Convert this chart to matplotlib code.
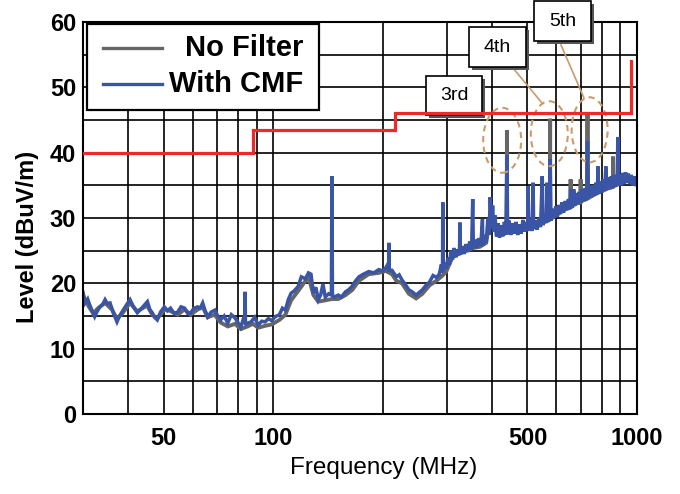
import matplotlib
matplotlib.use("Agg")
import matplotlib.pyplot as plt
import matplotlib.transforms as mtransforms
from matplotlib.patches import Rectangle, Ellipse
from matplotlib.lines import Line2D
from matplotlib.ticker import FixedLocator, FixedFormatter, NullFormatter

plt.rcParams['font.family'] = ['Liberation Sans', 'DejaVu Sans']

# ---------------- data ----------------
series_names = ["No Filter", "With CMF"]

# (frequency MHz, level dBuV/m)
with_cmf = [
    (30, 18.6), (30.4, 17.0), (30.9, 17.6), (31.3, 16.7), (31.8, 15.8), (32.3, 14.9), (32.8, 15.7),
    (33.4, 16.4), (34.0, 16.8), (34.5, 17.5), (35.0, 16.9), (35.6, 17.0), (36.4, 15.4), (37.2, 14.1),
    (37.8, 15.0), (38.4, 15.6), (39.4, 16.6), (40.4, 17.5), (41.3, 16.4), (42.3, 15.5), (43.5, 16.2),
    (45.1, 17.2), (45.8, 16.0), (46.5, 15.5), (47.2, 14.8), (48.0, 14.4), (49.0, 15.6), (50.2, 16.4),
    (51.2, 15.8), (52.2, 16.2), (53.4, 15.4), (54.6, 15.6), (55.8, 16.4), (57.1, 16.2), (58.2, 15.4),
    (59.3, 15.5), (60.6, 16.2), (62.0, 16.4), (63.0, 16.2), (64.0, 17.0), (65.0, 15.8), (66.1, 14.9),
    (67.5, 15.6), (69.1, 15.9), (70.4, 15.0), (71.7, 14.4), (73.3, 15.0), (75.0, 13.9), (76.7, 15.2),
    (78.5, 14.7), (80.0, 14.0), (81.5, 13.3), (82.6, 14.4), (83.5, 14.0), (83.7, 18.7), (83.9, 14.0),
    (85.0, 13.9), (86.9, 14.1), (88.9, 14.8), (90.9, 13.6), (93.0, 14.2), (95.0, 14.1), (97.0, 14.6),
    (99.0, 14.3), (101.3, 14.9), (104, 15.2), (106, 16.2), (108, 15.9), (110, 17.5), (112, 18.5),
    (114, 18.8), (117, 19.5), (119.5, 21.0), (122.6, 20.7), (125, 21.6), (127, 21.4), (128, 19.9),
    (129, 18.5), (131, 19.4), (133, 17.5), (135, 18.2), (137, 19.9), (139, 17.9), (142, 18.4),
    (144.5, 18.2), (145, 36.4), (145.5, 18.2), (147, 17.9), (151, 18.2), (154, 17.9), (158, 18.7),
    (161, 19.0), (164.5, 19.5), (168, 20.3), (172, 21.0), (177, 21.4), (183, 21.8), (189, 21.6),
    (195, 22.1), (200, 21.9), (204, 22.4), (206, 22.8), (207.5, 22.0), (208, 26.2), (208.5, 22.0),
    (212, 22.0), (218, 21.0), (222, 21.3), (226, 20.5), (231, 19.8), (236, 19.0), (241, 18.7),
    (247, 18.2), (252, 18.6), (257, 19.0), (263, 19.7), (269, 20.2), (275, 21.2), (281, 20.9),
    (286, 21.4), (290, 22.9), (292, 21.6), (292.5, 32.4), (293, 21.9), (296, 23.2), (299, 22.2),
    (302, 23.9), (305, 22.8), (308, 25.0), (311, 23.6), (314, 25.4), (318, 24.0), (322, 25.2),
    (325, 24.3), (326, 29.3), (327, 24.4), (331, 25.7), (335, 24.5), (339, 26.0), (343, 24.8),
    (347, 26.4), (351, 25.1), (353.5, 32.9), (355, 25.4), (359, 26.7), (363, 25.4), (367, 26.9),
    (372, 25.7), (376, 29.8), (377, 25.8), (381, 27.4), (385, 26.2), (389, 29.9), (392, 27.4),
    (395, 33.2), (398, 28.4), (401, 31.9), (404, 27.9), (407, 30.4), (411, 27.2), (415, 29.2),
    (419, 27.0), (424, 28.9), (428, 27.2), (432, 29.4), (436, 27.4), (439, 39.6), (441, 27.6),
    (445, 29.6), (450, 27.4), (455, 29.2), (460, 27.6), (465, 29.4), (470, 27.4), (475, 29.0),
    (480, 27.6), (486, 29.7), (491, 27.9), (496, 29.4), (501, 28.0), (502, 34.9), (504, 28.2),
    (510, 29.8), (515, 28.0), (518, 35.4), (520, 28.4), (526, 29.6), (531, 28.2), (537, 30.0),
    (543, 28.6), (549, 36.4), (552, 28.9), (558, 30.6), (563, 29.2), (566, 35.4), (569, 29.4),
    (574, 30.9), (577, 39.0), (580, 29.6), (586, 31.4), (592, 30.0), (598, 31.8), (604, 30.2),
    (610, 32.0), (616, 30.6), (622, 32.4), (628, 30.8), (635, 32.6), (641, 31.2), (648, 32.9),
    (654, 31.4), (657, 34.4), (660, 33.4), (664, 31.6), (670, 34.4), (675, 31.9), (681, 33.8),
    (688, 32.2), (694, 34.0), (700, 32.4), (707, 34.4), (714, 32.6), (721, 34.6), (728, 32.8),
    (731, 41.8), (735, 33.0), (742, 34.9), (749, 33.2), (756, 35.0), (763, 33.4), (770, 35.4),
    (778, 33.6), (781, 37.9), (785, 33.7), (793, 35.6), (801, 33.9), (809, 35.9), (815, 34.1),
    (821, 37.9), (826, 34.3), (834, 36.2), (842, 34.4), (850, 36.4), (858, 34.6), (866, 36.6),
    (874, 34.8), (882, 36.4), (886, 42.4), (890, 35.0), (898, 36.7), (906, 35.0), (914, 36.9),
    (922, 35.2), (930, 37.0), (938, 35.4), (946, 36.8), (955, 35.2), (964, 36.6), (973, 35.0),
    (982, 36.4), (991, 34.9), (1000, 35.6),
]

no_filter = [
    (30, 18.2), (31, 16.6), (32, 15.4), (33, 16.2), (34.5, 17.0), (36, 16.0), (37.2, 14.6),
    (38.5, 15.4), (40.4, 17.0), (42.3, 15.7), (45, 16.6), (46.5, 15.2), (48, 14.6), (50.2, 16.0),
    (52, 15.8), (54.6, 15.2), (57, 16.0), (59.3, 15.2), (62, 16.0), (64, 16.4), (66, 14.8),
    (69, 15.2), (71.7, 14.0), (75, 13.4), (78.5, 13.8), (81.5, 13.0), (85, 13.4), (88, 13.8),
    (90.9, 13.2), (95, 13.5), (99, 13.7), (104, 14.4), (108, 15.2), (112, 17.4), (117, 18.8),
    (122, 20.2), (125, 21.0), (129, 18.2), (133, 17.2), (139, 17.4), (145, 17.6), (151, 17.6),
    (158, 18.2), (165, 19.0), (172, 20.4), (183, 21.4), (195, 21.6), (204, 21.9), (212, 21.4),
    (218, 20.4), (226, 20.0), (236, 18.4), (247, 17.7), (257, 18.4), (269, 19.7), (281, 20.4),
    (292, 21.2), (299, 21.8), (311, 24.0), (326, 24.6), (340, 25.0), (354, 25.4), (370, 25.6),
    (385, 26.2), (394, 29.8), (398, 28.5), (405, 30.2), (412, 27.4), (425, 27.4), (436, 27.7),
    (438.5, 27.7), (439, 43.4), (439.5, 27.8), (456, 28.0), (477, 28.0), (499, 28.4), (518, 28.5),
    (540, 29.0), (560, 29.5), (576.5, 29.8), (577, 45.2), (577.5, 29.8), (600, 30.4), (620, 31.0),
    (640, 31.4), (656.5, 31.6), (657, 35.9), (657.5, 31.7), (680, 32.2), (699.5, 32.4), (700, 35.9),
    (700.5, 32.5), (730.5, 33.0), (731, 45.8), (731.5, 33.0), (760, 33.5), (790, 34.0), (820, 34.4),
    (848, 34.7), (858.5, 34.8), (859, 39.4), (859.5, 34.8), (890, 35.2), (920, 35.5), (950, 35.7),
    (980, 36.0), (1000, 35.8),
]

# limit line (step)
limit_freq = [30, 88, 88, 216, 216, 960, 960]
limit_level = [40, 40, 43.5, 43.5, 46, 46, 54]

x_major_ticks = [50, 100, 500, 1000]
x_major_labels = ["50", "100", "500", "1000"]
x_minor_ticks = [40, 60, 70, 80, 90, 200, 300, 400, 600, 700, 800, 900]
y_major_ticks = [0, 10, 20, 30, 40, 50, 60]
y_minor_ticks = [5, 15, 25, 35, 45, 55]

harmonic_labels = ["3rd", "4th", "5th"]
# ellipse centres around the harmonic peaks (freq MHz, level)
ellipse_freq = [426, 574, 741]
ellipse_level = [41.9, 42.9, 43.5]

# ---------------- figure ----------------
W, H = 680, 494
fig = plt.figure(figsize=(W / 100, H / 100), dpi=100)
fig.patch.set_facecolor("white")
ax = fig.add_axes([83 / W, 1 - 414 / H, (637 - 83) / W, (414 - 22) / H])

def fxy(x, y):
    return (x / W, 1 - y / H)

GRAY = "#666666"
BLUE = "#3a54a6"
RED = "#ee2a26"
TAN = "#c99b6e"

nf_f, nf_l = zip(*no_filter)
cm_f, cm_l = zip(*with_cmf)
ax.plot(nf_f, nf_l, color=GRAY, lw=2.8, zorder=2, solid_joinstyle="miter")
ax.plot(cm_f, cm_l, color=BLUE, lw=2.5, zorder=2.5, solid_joinstyle="miter")
ax.plot(limit_freq, limit_level, color=RED, lw=2.3, zorder=5, solid_joinstyle="miter")

ax.set_xscale("log")
ax.set_xlim(30, 1000)
ax.set_ylim(0, 60)
ax.xaxis.set_major_locator(FixedLocator(x_major_ticks))
ax.xaxis.set_major_formatter(FixedFormatter(x_major_labels))
ax.xaxis.set_minor_locator(FixedLocator(x_minor_ticks))
ax.xaxis.set_minor_formatter(NullFormatter())
ax.set_yticks(y_major_ticks)
ax.yaxis.set_minor_locator(FixedLocator(y_minor_ticks))
ax.grid(which="both", color="black", lw=1.2, zorder=0.5)
ax.set_axisbelow(True)
ax.tick_params(which="both", length=0)
ax.tick_params(axis="y", labelsize=17, pad=5)
ax.tick_params(axis="x", labelsize=17, pad=9)
for lab in ax.get_xticklabels() + ax.get_yticklabels():
    lab.set_fontweight("bold")
for s in ax.spines.values():
    s.set_linewidth(1.5)
    s.set_color("black")

fig.text(28 / W, 1 - 237 / H, "Level (dBuV/m)", rotation=90, ha="center", va="center",
         fontsize=17, fontweight="bold")
fig.text(384 / W, 1 - 468 / H, "Frequency (MHz)", ha="center", va="center", fontsize=17.5)

# ---------------- harmonic annotations ----------------
boxes = [(426, 76, 56, 39), (469, 27, 57, 40), (534, 1, 57, 40)]
for (bx, by, bw, bh), lab in zip(boxes, harmonic_labels):
    sx, sy = fxy(bx + 3, by + bh + 3)
    ax.add_patch(Rectangle((sx, sy), bw / W, bh / H, transform=fig.transFigure,
                           facecolor="#555555", edgecolor="none", clip_on=False, zorder=4))
    x0, y0 = fxy(bx, by + bh)
    ax.add_patch(Rectangle((x0, y0), bw / W, bh / H, transform=fig.transFigure,
                           facecolor="white", edgecolor="black", lw=1.2, clip_on=False, zorder=4.1))
    cx, cy = fxy(bx + bw / 2, by + bh / 2)
    ax.text(cx, cy, lab, transform=fig.transFigure, ha="center", va="center",
            fontsize=14, zorder=4.2, clip_on=False)

for (x1, y1, x2, y2) in [(513, 68, 542, 103), (561, 45, 584, 98)]:
    p1 = fxy(x1, y1)
    p2 = fxy(x2, y2)
    ax.add_line(Line2D([p1[0], p2[0]], [p1[1], p2[1]], transform=fig.transFigure,
                       color=TAN, lw=1.2, clip_on=False, zorder=3.6))

for f, lv, w in zip(ellipse_freq, ellipse_level, [0.38, 0.37, 0.36]):
    trans = fig.dpi_scale_trans + mtransforms.ScaledTranslation(f, lv, ax.transData)
    ax.add_patch(Ellipse((0, 0), w, 0.65, transform=trans, fill=False, edgecolor=TAN,
                         lw=1.5, linestyle=(0, (3, 2.2)), zorder=3.5, clip_on=False))

# ---------------- legend (manual, right-aligned text) ----------------
lx0, ly0 = fxy(87, 110)
ax.add_patch(Rectangle((lx0, ly0), (319 - 87) / W, (110 - 24) / H, transform=fig.transFigure,
                       facecolor="white", edgecolor="black", lw=1.6, clip_on=False, zorder=10))
for name, color, yy in zip(series_names, [GRAY, BLUE], [48, 84]):
    a = fxy(103, yy)
    b = fxy(162, yy)
    ax.add_line(Line2D([a[0], b[0]], [a[1], b[1]], transform=fig.transFigure, color=color,
                       lw=2.4, clip_on=False, zorder=11))
    tx, ty = fxy(303, yy)
    ax.text(tx, ty, name, transform=fig.transFigure, ha="right", va="center",
            fontsize=21, fontweight="bold", zorder=11, clip_on=False)

fig.savefig("out.png", dpi=100, facecolor="white")
